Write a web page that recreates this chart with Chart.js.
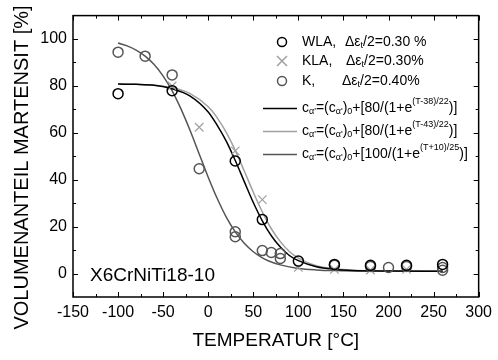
<!DOCTYPE html>
<html>
<head>
<meta charset="utf-8">
<script src="https://cdn.jsdelivr.net/npm/chart.js@4.4.1/dist/chart.umd.min.js"></script>
<style>
  body { margin: 0; background: #fff; }
  #wrap { width: 498px; height: 360px; }
</style>
</head>
<body>
<div id="wrap"><canvas id="mycanvas" width="498" height="360"></canvas></div>
<script>
// measured points
var wlaT = [-100, -40, 30, 60, 100, 140, 180, 220, 260];
var wlaV = [76.7, 78, 48, 23, 5.3, 3.9, 3.5, 3.5, 3.9];

var klaT = [-40, -10, 30, 60, 100, 140, 180, 220];
var klaV = [80, 62.4, 52.3, 31.5, 2.6, 1.8, 1.5, 1.8];

var kT = [-100, -70, -40, -10, 30, 30, 60, 70, 80, 80, 140, 180, 200, 220, 260, 260];
var kV = [94.4, 92.7, 84.7, 44.7, 17.8, 15.7, 9.8, 9, 8.5, 6.4, 3.5, 3, 2.6, 3, 1.4, 2.6];

// fitted curves
var fitT = [-100, -80, -60, -40, -20, 0, 10, 20, 30, 40, 50, 60, 70, 80, 90, 100, 120, 140, 160, 200, 260];
var fit1V = [80.8, 80.7, 80.3, 78.8, 75.7, 68.9, 63.2, 56.5, 48.2, 39.2, 30.3, 22.5, 16.1, 11.3, 7.7, 5.5, 2.9, 1.8, 1.3, 1.1, 1.0];
var fit2V = [80.9, 80.7, 80.3, 79.2, 76.7, 71.1, 66.4, 60.2, 52.5, 43.7, 34.7, 26.3, 19.1, 13.6, 9.4, 6.6, 3.3, 2.0, 1.4, 1.1, 1.0];
var fit3T = [-100, -90, -80, -70, -60, -50, -40, -30, -20, -10, 0, 10, 20, 30, 40, 50, 60, 70, 80, 100, 120, 140, 180, 260];
var fit3V = [98.3, 97.1, 95.3, 92.7, 89.1, 84.2, 77.9, 70, 60.9, 51, 41.1, 32, 24.1, 17.8, 12.9, 9.3, 6.7, 4.9, 3.7, 2.2, 1.55, 1.25, 1.05, 1.0];

var xTicks = [-150, -100, -50, 0, 50, 100, 150, 200, 250, 300];
var yTicks = [0, 20, 40, 60, 80, 100];

function pts(xs, ys) {
  var out = [];
  for (var i in xs) out.push({x: xs[i], y: ys[i]});
  return out;
}

var FONT = "'Liberation Sans', Arial, sans-serif";

// draws text made of pieces, some sub/superscripted
function richText(ctx, x, y, parts) {
  for (var i = 0; i < parts.length; i++) {
    var p = parts[i];
    var size = 14, dy = 0;
    if (p.sub) { size = 9; dy = 4; }
    if (p.sup) { size = 9; dy = -6; }
    ctx.font = size + "px " + FONT;
    ctx.fillText(p.t, x, y + dy);
    x += ctx.measureText(p.t).width;
  }
  return x;
}

var framePlugin = {
  id: 'frame',
  afterDraw: function(chart) {
    var ctx = chart.ctx;
    var a = chart.chartArea;
    var xs = chart.scales.x, ys = chart.scales.y;
    ctx.save();
    ctx.strokeStyle = '#000';
    ctx.lineWidth = 1.5;
    ctx.strokeRect(a.left, a.top, a.right - a.left, a.bottom - a.top);
    ctx.lineWidth = 1;
    ctx.beginPath();
    for (var v = -150; v <= 300; v += 25) {
      var px = Math.round(xs.getPixelForValue(v)) + 0.5;
      var len = (v % 50 == 0) ? 5 : 3;
      ctx.moveTo(px, a.bottom); ctx.lineTo(px, a.bottom - len);
      ctx.moveTo(px, a.top); ctx.lineTo(px, a.top + len);
    }
    for (var w = 0; w <= 100; w += 10) {
      var py = Math.round(ys.getPixelForValue(w)) + 0.5;
      var l2 = (w % 20 == 0) ? 5 : 3;
      ctx.moveTo(a.left, py); ctx.lineTo(a.left + l2, py);
      ctx.moveTo(a.right, py); ctx.lineTo(a.right - l2, py);
    }
    ctx.stroke();

    // y axis title (sits a bit lower than the plot centre in the original)
    ctx.save();
    ctx.translate(28, 167.5);
    ctx.rotate(-Math.PI / 2);
    ctx.fillStyle = '#000';
    ctx.font = "20px " + FONT;
    ctx.textAlign = 'center';
    ctx.textBaseline = 'alphabetic';
    ctx.fillText('VOLUMENANTEIL MARTENSIT [%]', 0, 0);
    ctx.restore();

    // legend
    ctx.textBaseline = 'middle';
    ctx.fillStyle = '#000';
    ctx.lineWidth = 1.5;
    ctx.strokeStyle = '#000';
    ctx.beginPath(); ctx.arc(282, 42, 4.5, 0, Math.PI * 2); ctx.stroke();
    ctx.strokeStyle = '#a0a0a0';
    ctx.beginPath();
    ctx.moveTo(277, 56); ctx.lineTo(287, 66);
    ctx.moveTo(287, 56); ctx.lineTo(277, 66);
    ctx.stroke();
    ctx.strokeStyle = '#555';
    ctx.beginPath(); ctx.arc(282, 81, 4.5, 0, Math.PI * 2); ctx.stroke();

    richText(ctx, 302, 42, [{t: 'WLA,'}]);
    richText(ctx, 345, 42, [{t: 'Δε'}, {t: 't', sub: true}, {t: '/2=0.30 %'}]);
    richText(ctx, 302, 61, [{t: 'KLA,'}]);
    richText(ctx, 346, 61, [{t: 'Δε'}, {t: 't', sub: true}, {t: '/2=0.30%'}]);
    richText(ctx, 302, 81, [{t: 'K,'}]);
    richText(ctx, 342, 81, [{t: 'Δε'}, {t: 't', sub: true}, {t: '/2=0.40%'}]);

    var eqs = [
      {y: 108, c: '#000', n: '80', e: '(T-38)/22'},
      {y: 131, c: '#a0a0a0', n: '80', e: '(T-43)/22'},
      {y: 154, c: '#555', n: '100', e: '(T+10)/25'}
    ];
    for (var k = 0; k < eqs.length; k++) {
      var q = eqs[k];
      ctx.strokeStyle = q.c;
      ctx.beginPath(); ctx.moveTo(263, q.y + 0.5); ctx.lineTo(297, q.y + 0.5); ctx.stroke();
      richText(ctx, 302, q.y, [
        {t: 'c'}, {t: "α'", sub: true}, {t: '=(c'}, {t: "α'", sub: true}, {t: ')'}, {t: '0', sub: true},
        {t: '+[' + q.n + '/(1+e'}, {t: q.e, sup: true}, {t: ')]'}
      ]);
    }

    ctx.font = "19px " + FONT;
    ctx.textBaseline = 'alphabetic';
    ctx.fillText('X6CrNiTi18-10', 90, 281);
    ctx.restore();
  }
};

var ctx = document.getElementById('mycanvas').getContext('2d');

var chart = new Chart(ctx, {
  type: 'scatter',
  data: {
    datasets: [
      {
        label: 'WLA',
        data: pts(wlaT, wlaV),
        pointStyle: 'circle',
        pointRadius: 5,
        borderWidth: 1.5,
        borderColor: '#000',
        backgroundColor: 'rgba(0,0,0,0)'
      },
      {
        label: 'K',
        data: pts(kT, kV),
        pointStyle: 'circle',
        pointRadius: 5,
        borderWidth: 1.5,
        borderColor: '#555',
        backgroundColor: 'rgba(0,0,0,0)'
      },
      {
        label: 'KLA',
        data: pts(klaT, klaV),
        pointStyle: 'crossRot',
        pointRadius: 6,
        borderWidth: 1.2,
        borderColor: '#a0a0a0',
        backgroundColor: 'rgba(0,0,0,0)'
      },
      {
        label: 'fit WLA',
        data: pts(fitT, fit1V),
        showLine: true,
        pointRadius: 0,
        borderWidth: 1.5,
        borderColor: '#000',
        cubicInterpolationMode: 'monotone'
      },
      {
        label: 'fit KLA',
        data: pts(fitT, fit2V),
        showLine: true,
        pointRadius: 0,
        borderWidth: 1.5,
        borderColor: '#a0a0a0',
        cubicInterpolationMode: 'monotone'
      },
      {
        label: 'fit K',
        data: pts(fit3T, fit3V),
        showLine: true,
        pointRadius: 0,
        borderWidth: 1.5,
        borderColor: '#555',
        cubicInterpolationMode: 'monotone'
      }
    ]
  },
  options: {
    responsive: false,
    animation: false,
    events: [],
    layout: { padding: { top: 13, right: 14, left: 0, bottom: 0 } },
    plugins: { legend: { display: false }, tooltip: { enabled: false } },
    scales: {
      x: {
        type: 'linear',
        min: -150, max: 300,
        afterBuildTicks: function(s) { s.ticks = xTicks.map(function(v) { return {value: v}; }); },
        afterFit: function(s) { s.height = 63; },
        grid: { display: false, drawTicks: false },
        border: { display: false },
        ticks: { color: '#000', padding: 6, font: { size: 16, family: FONT }, maxRotation: 0 },
        title: { display: true, text: 'TEMPERATUR [°C]', color: '#000', font: { size: 19, family: FONT }, padding: { top: 0, bottom: 8 } }
      },
      y: {
        type: 'linear',
        min: -10, max: 110,
        afterBuildTicks: function(s) { s.ticks = yTicks.map(function(v) { return {value: v}; }); },
        afterFit: function(s) { s.width = 73; },
        grid: { display: false, drawTicks: false },
        border: { display: false },
        ticks: { color: '#000', padding: 6, font: { size: 16, family: FONT } },
        title: { display: false }
      }
    }
  },
  plugins: [framePlugin]
});
</script>
</body>
</html>
